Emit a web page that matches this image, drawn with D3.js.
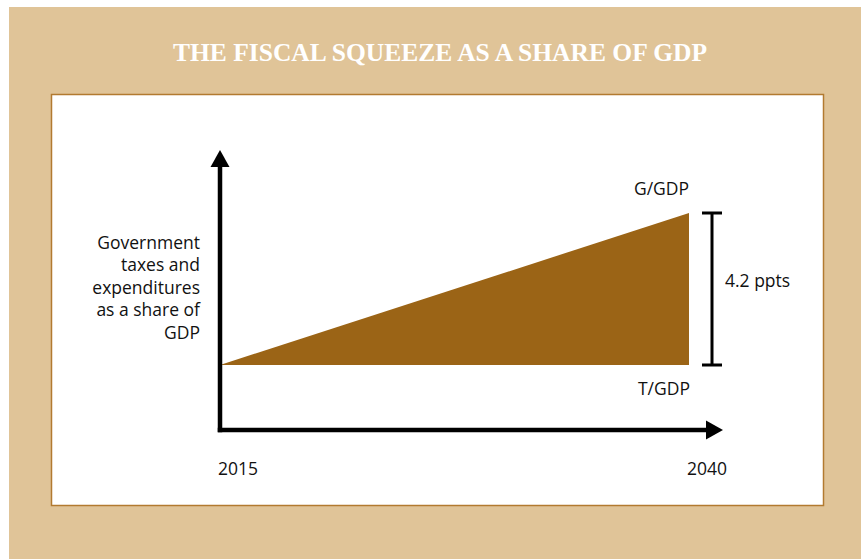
<!DOCTYPE html>
<html lang="en">
<head>
<meta charset="UTF-8">
<script src="https://d3js.org/d3.v7.min.js"></script>
<title>The fiscal squeeze as a share of GDP</title>
<style>
  body { margin: 0; background: #fff; }
  text { font-family: "Open Sans", sans-serif; fill: #111; }
  .title { font-family: "Liberation Serif", serif; font-weight: bold; fill: #fff; }
</style>
</head>
<body>
<div id="chart"></div>
<script>
// data
var years = [2015, 2040];
var taxShare = [0, 0];       // T/GDP, baseline
var spendShare = [0, 4.2];   // G/GDP, ppts above T/GDP
var gapLabel = "4.2 ppts";
var yLabelLines = ["Government", "taxes and", "expenditures", "as a share of", "GDP"];

var W = 861, H = 559;
var fs = "17.5px";

var svg = d3.select("#chart").append("svg")
    .attr("width", W)
    .attr("height", H);

// frame
svg.append("rect")
    .attr("x", 9).attr("y", 7)
    .attr("width", W - 9).attr("height", H - 7)
    .attr("fill", "#e0c498");

svg.append("rect")
    .attr("x", 51.5).attr("y", 94.5)
    .attr("width", 772).attr("height", 411)
    .attr("fill", "#fff")
    .attr("stroke", "#b27a30")
    .attr("stroke-width", 1.5);

svg.append("text")
    .attr("class", "title")
    .attr("x", 440).attr("y", 61)
    .attr("text-anchor", "middle")
    .attr("font-size", "25.5px")
    .text("THE FISCAL SQUEEZE AS A SHARE OF GDP");

// scales
var x = d3.scaleLinear().domain([2015, 2040]).range([220, 689]);
var y = d3.scaleLinear().domain([0, 4.2]).range([365, 213]);

var rows = years.map(function(d, i) {
  return { year: d, t: taxShare[i], g: spendShare[i] };
});

// filled gap between G/GDP and T/GDP
var area = d3.area()
    .x(function(d) { return x(d.year); })
    .y0(function(d) { return y(d.t); })
    .y1(function(d) { return y(d.g); });

svg.append("path")
    .datum(rows)
    .attr("d", area)
    .attr("fill", "#9b6416");

// axes with arrows
var axisX = 220, axisY = 430;

svg.append("line")
    .attr("x1", axisX).attr("y1", axisY + 2.25)
    .attr("x2", axisX).attr("y2", 164)
    .attr("stroke", "#000").attr("stroke-width", 4.5);

svg.append("path")
    .attr("d", "M" + axisX + ",150L" + (axisX + 9.5) + ",167L" + (axisX - 9.5) + ",167Z")
    .attr("fill", "#000");

svg.append("line")
    .attr("x1", axisX - 2.25).attr("y1", axisY)
    .attr("x2", 710).attr("y2", axisY)
    .attr("stroke", "#000").attr("stroke-width", 4.5);

svg.append("path")
    .attr("d", "M723," + axisY + "L706," + (axisY - 9.5) + "L706," + (axisY + 9.5) + "Z")
    .attr("fill", "#000");

// year labels
svg.selectAll(".year")
    .data(years)
  .enter().append("text")
    .attr("class", "year")
    .attr("x", function(d) { return x(d) - 2; })
    .attr("y", 475)
    .attr("font-size", fs)
    .text(function(d) { return d; });

// y label
svg.append("text")
    .attr("text-anchor", "end")
    .attr("font-size", fs)
  .selectAll("tspan")
    .data(yLabelLines)
  .enter().append("tspan")
    .attr("x", 200)
    .attr("y", function(d, i) { return 248.5 + i * 22.5; })
    .text(function(d) { return d; });

// series labels
svg.append("text")
    .attr("x", 689).attr("y", 194.5)
    .attr("text-anchor", "end")
    .attr("font-size", fs)
    .text("G/GDP");

svg.append("text")
    .attr("x", 690).attr("y", 394.5)
    .attr("text-anchor", "end")
    .attr("font-size", fs)
    .text("T/GDP");

// gap bracket
var bx = 712;
var bracket = svg.append("g").attr("stroke", "#000").attr("stroke-width", 3);
bracket.append("line")
    .attr("x1", bx).attr("x2", bx)
    .attr("y1", y(spendShare[1])).attr("y2", y(taxShare[1]));
[spendShare[1], taxShare[1]].forEach(function(v) {
  bracket.append("line")
      .attr("x1", bx - 10).attr("x2", bx + 10)
      .attr("y1", y(v)).attr("y2", y(v));
});

svg.append("text")
    .attr("x", 725)
    .attr("y", y((spendShare[1] + taxShare[1]) / 2) - 2.5)
    .attr("font-size", fs)
    .text(gapLabel);
</script>
</body>
</html>
